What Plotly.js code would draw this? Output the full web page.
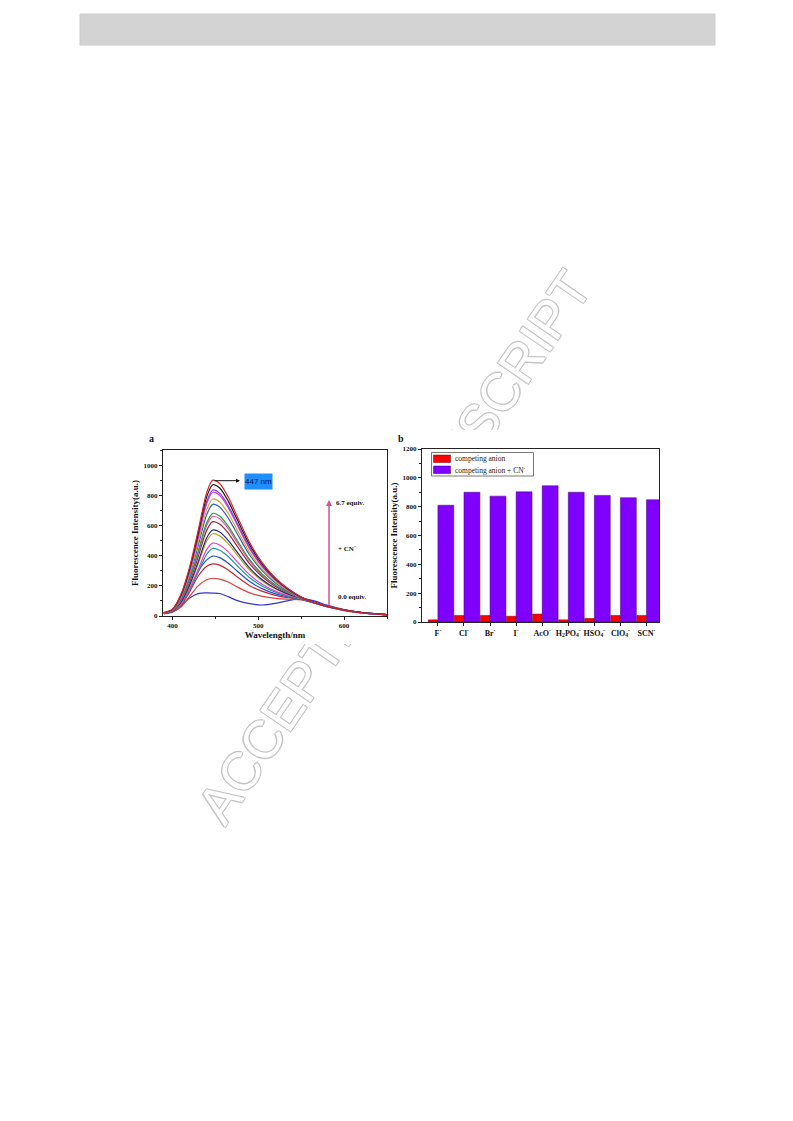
<!DOCTYPE html>
<html>
<head>
<meta charset="utf-8">
<script src="https://cdn.plot.ly/plotly-3.0.1.min.js"></script>
<style>html,body{margin:0;padding:0;background:#fff;}#plot{width:793px;height:1121px;}</style>
</head>
<body>
<div id="plot"></div>
<script>
// ---------- Panel a: fluorescence spectra ----------
const wavelength = [390, 400, 410, 420, 430, 440, 447, 455, 465, 475, 490, 505, 520, 535, 550, 565, 580, 600, 620, 650];
const spec00 = [15, 30, 70, 120, 148, 153, 152, 149, 128, 104, 82, 73, 84, 102, 115, 100, 72, 42, 22, 8];
const spec01 = [15, 26, 60, 130, 200, 240, 250, 244, 225, 194, 153, 130, 117, 111, 107, 86, 61, 36, 21, 8];
const spec02 = [16, 28, 70, 160, 265, 330, 345, 337, 305, 261, 201, 163, 137, 121, 110, 87, 62, 38, 21, 8];
const spec03 = [16, 29, 75, 175, 295, 372, 397, 387, 350, 300, 228, 180, 147, 127, 112, 88, 63, 38, 21, 8];
const spec04 = [17, 30, 75, 170, 290, 410, 447, 436, 394, 336, 254, 197, 158, 132, 113, 88, 62, 38, 22, 8];
const spec05 = [17, 31, 80, 180, 308, 442, 483, 471, 425, 362, 273, 209, 165, 136, 114, 87, 63, 38, 22, 9];
const spec06 = [18, 32, 88, 198, 345, 497, 545, 531, 479, 407, 304, 231, 179, 142, 115, 88, 63, 39, 22, 8];
const spec07 = [18, 32, 91, 205, 359, 519, 570, 556, 501, 426, 317, 239, 184, 145, 117, 88, 63, 39, 22, 9];
const spec08 = [19, 33, 100, 225, 394, 569, 625, 609, 549, 466, 346, 258, 195, 151, 119, 89, 63, 39, 22, 8];
const spec09 = [19, 34, 106, 238, 416, 601, 660, 644, 579, 491, 363, 269, 202, 155, 119, 89, 64, 39, 22, 9];
const spec10 = [19, 34, 109, 245, 428, 619, 680, 663, 596, 505, 373, 276, 206, 157, 119, 89, 64, 40, 23, 9];
const spec11 = [20, 37, 118, 266, 466, 673, 740, 722, 649, 550, 404, 297, 219, 163, 122, 89, 64, 39, 23, 8];
const spec12 = [20, 39, 124, 279, 488, 705, 775, 756, 679, 575, 422, 308, 226, 167, 123, 90, 64, 40, 23, 9];
const spec13 = [21, 41, 131, 295, 517, 746, 820, 800, 718, 608, 445, 324, 236, 172, 124, 90, 64, 40, 23, 9];
const spec14 = [21, 42, 134, 301, 526, 760, 835, 814, 731, 619, 453, 329, 239, 173, 124, 90, 64, 41, 23, 9];
const spec15 = [22, 44, 139, 313, 548, 792, 870, 848, 761, 644, 471, 340, 246, 177, 125, 90, 65, 40, 24, 9];
const spec16 = [22, 45, 144, 324, 567, 819, 900, 878, 788, 666, 486, 351, 252, 180, 126, 90, 65, 41, 23, 9];
const spectra = [spec00, spec01, spec02, spec03, spec04, spec05, spec06, spec07, spec08,
                 spec09, spec10, spec11, spec12, spec13, spec14, spec15, spec16];
const specColors = ['#3535c8', '#d94040', '#c0282d', '#2850c8', '#1a9a9a', '#e040d8', '#b5a525',
                    '#1f2a80', '#8c2a3c', '#e45aa0', '#2e9448', '#2f5fc0', '#e0a51e', '#d83ad8',
                    '#8a3ad8', '#1a1a1a', '#d42a2a'];

// ---------- Panel b: competing anions ----------
const anions = ['F<sup>-</sup>', 'Cl<sup>-</sup>', 'Br<sup>-</sup>', 'I<sup>-</sup>', 'AcO<sup>-</sup>',
                'H<sub>2</sub>PO<sub>4</sub><sup>-</sup>', 'HSO<sub>4</sub><sup>-</sup>',
                'ClO<sub>4</sub><sup>-</sup>', 'SCN<sup>-</sup>'];
const competing = [15, 45, 45, 40, 55, 15, 25, 45, 45];
const competingPlusCN = [810, 900, 873, 903, 945, 900, 878, 862, 848];
const seriesNames = ['competing anion', 'competing anion + CN<sup>-</sup>'];
const barColors = ['#ff0000', '#8000ff'];

const W = 793, H = 1121;
const px = v => v / W;
const py = v => 1 - v / H;
const serif = 'Liberation Serif, Times New Roman, serif';

const traces = spectra.map((s, i) => ({
  type: 'scatter', mode: 'lines', x: wavelength, y: s,
  xaxis: 'x', yaxis: 'y', showlegend: false, hoverinfo: 'skip',
  line: {color: specColors[i], width: 1.2, shape: 'spline', smoothing: 0.8}
}));
traces.push({
  type: 'bar', x: anions, y: competing, name: seriesNames[0],
  xaxis: 'x2', yaxis: 'y2', width: 0.37, offset: -0.37,
  marker: {color: barColors[0], line: {color: '#7a0000', width: 0.5}}
});
traces.push({
  type: 'bar', x: anions, y: competingPlusCN, name: seriesNames[1],
  xaxis: 'x2', yaxis: 'y2', width: 0.61, offset: 0.0,
  marker: {color: barColors[1], line: {color: '#3a0070', width: 0.5}}
});

const tickFont = {family: serif, size: 7, weight: 'bold', color: '#111'};
const titleFont = {family: serif, size: 9, weight: 'bold', color: '#111'};
const axBase = {
  showline: true, linecolor: '#222', linewidth: 1, mirror: true, showgrid: false, zeroline: false,
  ticks: 'outside', ticklen: 3, tickwidth: 1, tickcolor: '#222', tickfont: tickFont
};

// legend (drawn as a small framed key inside panel b, like the original)
const legendShapes = [
  {type: 'rect', xref: 'paper', yref: 'paper', x0: px(431.5), x1: px(533.5), y0: py(476), y1: py(452.5),
   fillcolor: '#ffffff', line: {color: '#555', width: 0.8}},
  {type: 'rect', xref: 'paper', yref: 'paper', x0: px(433.5), x1: px(450.5), y0: py(462.5), y1: py(455),
   fillcolor: barColors[0], line: {color: '#7a0000', width: 0.5}},
  {type: 'rect', xref: 'paper', yref: 'paper', x0: px(433.5), x1: px(450.5), y0: py(473.5), y1: py(466),
   fillcolor: barColors[1], line: {color: '#3a0070', width: 0.5}}
];
const legendTexts = seriesNames.map((n, i) => ({
  xref: 'paper', yref: 'paper', x: px(452.5), y: py(458.8 + i * 11), xanchor: 'left', yanchor: 'middle',
  text: n, showarrow: false, font: {family: serif, size: 7.5, color: '#222'}
}));

const layout = {
  width: W, height: H, margin: {l: 0, r: 0, t: 0, b: 0},
  paper_bgcolor: '#ffffff', plot_bgcolor: '#ffffff',
  barmode: 'overlay', showlegend: false,
  xaxis: Object.assign({}, axBase, {
    domain: [px(163), px(387)], anchor: 'y', range: [389, 650],
    tickvals: [400, 500, 600], minor: {dtick: 50, tick0: 400, ticks: 'outside', ticklen: 2, tickcolor: '#222'},
    title: {text: 'Wavelength/nm', font: titleFont, standoff: 2}
  }),
  yaxis: Object.assign({}, axBase, {
    domain: [py(616), py(450)], anchor: 'x', range: [0, 1100],
    dtick: 200, tick0: 0, minor: {dtick: 100, ticks: 'outside', ticklen: 2, tickcolor: '#222'},
    title: {text: 'Fluorescence Intensity(a.u.)', font: titleFont, standoff: 3}
  }),
  xaxis2: Object.assign({}, axBase, {
    domain: [px(422), px(659)], anchor: 'y2', range: [-0.61, 8.48],
    tickfont: {family: serif, size: 8, weight: 'bold', color: '#111'}
  }),
  yaxis2: Object.assign({}, axBase, {
    domain: [py(622), py(449)], anchor: 'x2', range: [0, 1200],
    dtick: 200, tick0: 0, minor: {dtick: 100, ticks: 'outside', ticklen: 2, tickcolor: '#222'},
    title: {text: 'Fluorescence Intensity(a.u.)', font: titleFont, standoff: 3}
  }),
  shapes: [
    {type: 'rect', xref: 'paper', yref: 'paper', x0: px(80), x1: px(715), y0: py(45), y1: py(14),
     fillcolor: '#d3d3d3', line: {color: '#cccccc', width: 1}, layer: 'below'},
    {type: 'line', xref: 'paper', yref: 'paper', x0: px(200), y0: py(822), x1: px(580), y1: py(266),
     line: {color: 'rgba(0,0,0,0)', width: 1}, layer: 'below',
     label: {text: 'ACCEPTED MANUSCRIPT', textposition: 'middle', yanchor: 'middle',
             font: {family: 'Liberation Sans, Arial, sans-serif', size: 53, color: '#ffffff',
                    shadow: '-1px -1px 0 #c4c4c4, 1px -1px 0 #c4c4c4, -1px 1px 0 #c4c4c4, 1px 1px 0 #c4c4c4'}}},
    {type: 'rect', xref: 'paper', yref: 'paper', x0: px(128), x1: px(391), y0: py(644), y1: py(430),
     fillcolor: '#ffffff', line: {width: 0}, layer: 'below'},
    {type: 'rect', xref: 'paper', yref: 'paper', x0: px(391), x1: px(672), y0: py(644), y1: py(430),
     fillcolor: '#ffffff', line: {width: 0}, layer: 'below'}
  ].concat(legendShapes),
  annotations: [
    {xref: 'paper', yref: 'paper', x: px(151), y: py(438), xanchor: 'center', yanchor: 'middle', text: 'a', showarrow: false,
     font: {family: serif, size: 10, weight: 'bold', color: '#111'}},
    {xref: 'paper', yref: 'paper', x: px(401), y: py(438), xanchor: 'center', yanchor: 'middle', text: 'b', showarrow: false,
     font: {family: serif, size: 10, weight: 'bold', color: '#111'}},
    {xref: 'paper', yref: 'paper', x: px(258.5), y: py(482), xanchor: 'center', yanchor: 'middle', text: '447 nm', showarrow: false,
     bgcolor: '#1e8fff', width: 27, height: 15, borderpad: 0,
     font: {family: 'Liberation Sans, Arial, sans-serif', size: 8, color: '#0a1050'}},
    {xref: 'paper', yref: 'paper', x: px(240), y: py(480.7), text: '', showarrow: true,
     ax: -27, ay: 0, arrowhead: 2, arrowsize: 0.8, arrowwidth: 1, arrowcolor: '#111'},
    {xref: 'paper', yref: 'paper', x: px(329), y: py(500), text: '', showarrow: true,
     ax: 0, ay: 107, arrowhead: 2, arrowsize: 0.8, arrowwidth: 1.5, arrowcolor: '#d4509a'},
    {xref: 'paper', yref: 'paper', x: px(334), y: py(503), xanchor: 'left', yanchor: 'middle', text: '6.7 equiv.', showarrow: false,
     font: {family: serif, size: 7, weight: 'bold', color: '#111'}},
    {xref: 'paper', yref: 'paper', x: px(336), y: py(549), xanchor: 'left', yanchor: 'middle', text: '+ CN<sup>\u2212</sup>', showarrow: false,
     font: {family: serif, size: 7, weight: 'bold', color: '#111'}},
    {xref: 'paper', yref: 'paper', x: px(336), y: py(597), xanchor: 'left', yanchor: 'middle', text: '0.0 equiv.', showarrow: false,
     font: {family: serif, size: 7, weight: 'bold', color: '#111'}}
  ].concat(legendTexts)
};

Plotly.newPlot('plot', traces, layout, {displayModeBar: false, staticPlot: true});
</script>
</body>
</html>
